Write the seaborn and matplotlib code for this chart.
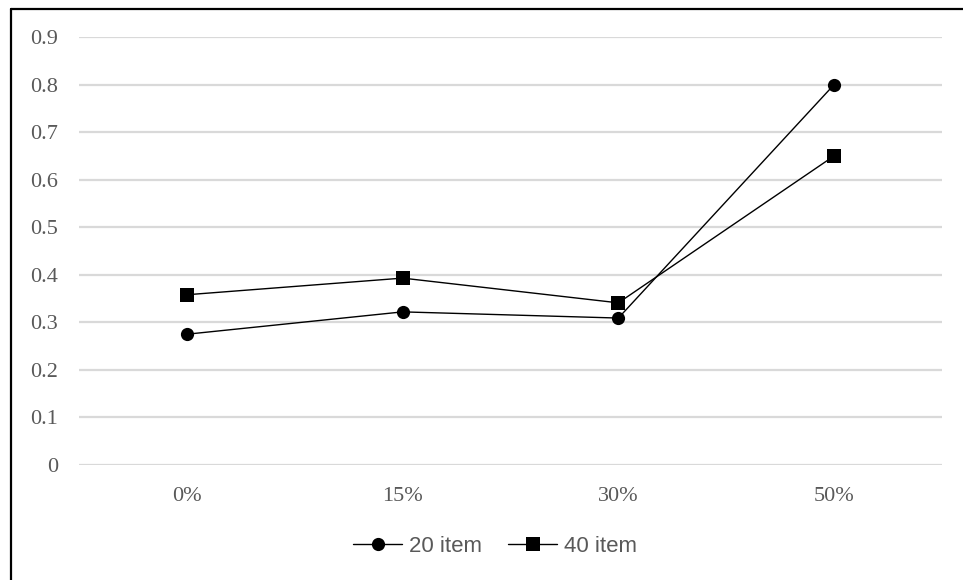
import matplotlib
matplotlib.use("Agg")
import matplotlib.pyplot as plt
from matplotlib.lines import Line2D
import seaborn as sns
import pandas as pd

# Proportion levels on the x axis
levels = ["0%", "15%", "30%", "50%"]

# Values for each test length
item20 = [0.275, 0.322, 0.309, 0.80]
item40 = [0.358, 0.393, 0.341, 0.65]

y_ticks = [0, 0.1, 0.2, 0.3, 0.4, 0.5, 0.6, 0.7, 0.8, 0.9]
y_tick_labels = ["0", "0.1", "0.2", "0.3", "0.4", "0.5", "0.6", "0.7", "0.8", "0.9"]

series_names = ["20 item", "40 item"]

df = pd.DataFrame({
    "level": levels * 2,
    "value": item20 + item40,
    "series": [series_names[0]] * len(levels) + [series_names[1]] * len(levels),
})

sns.set_theme(style="white")
plt.rcParams["font.family"] = ["Liberation Serif", "DejaVu Serif"]

fig = plt.figure(figsize=(9.63, 5.80), dpi=100)
ax = fig.add_axes([79 / 963, 1 - 465 / 580, (942 - 79) / 963, (465 - 37) / 580])

sns.lineplot(
    data=df, x="level", y="value", hue="series", style="series",
    palette=["black", "black"], markers={"20 item": "o", "40 item": "s"},
    dashes=False, linewidth=1.0, markersize=9.5, markeredgewidth=0,
    sort=False, ax=ax, legend=False, zorder=3,
)
for ln in ax.lines:
    ln.set_clip_on(False)

ax.set_xlim(-0.5, len(levels) - 0.5)
ax.set_ylim(0, 0.9)
ax.set_yticks(y_ticks)
ax.set_yticklabels(y_tick_labels)
ax.set_xlabel("")
ax.set_ylabel("")
ax.yaxis.grid(True, color="#d9d9d9", linewidth=1.6)
ax.xaxis.grid(False)
ax.set_axisbelow(True)
for side in ax.spines.values():
    side.set_visible(False)
ax.tick_params(axis="both", length=0, labelsize=16, colors="#595959")
ax.tick_params(axis="y", pad=15)
ax.tick_params(axis="x", pad=15.5)

# Legend with line-marker-line handles
handles = [
    Line2D([], [], color="black", linewidth=1.0, marker="o", markersize=9.5,
           markeredgewidth=0),
    Line2D([], [], color="black", linewidth=1.0, marker="s", markersize=9.5,
           markeredgewidth=0),
]
fig.legend(
    handles, series_names, loc="center", bbox_to_anchor=(495 / 963, 1 - 546 / 580),
    ncol=2, frameon=False, handlelength=2.2, handletextpad=0.3, columnspacing=1.2,
    prop={"family": ["Liberation Sans Narrow", "Liberation Sans", "DejaVu Sans"], "size": 16},
    labelcolor="#595959",
)

# Outer frame along the top and left edges
fig.add_artist(Line2D([10.5 / 963, 1.0], [1 - 8.5 / 580, 1 - 8.5 / 580],
                      transform=fig.transFigure, color="black", linewidth=1.6))
fig.add_artist(Line2D([10.5 / 963, 10.5 / 963], [0.0, 1 - 8.5 / 580],
                      transform=fig.transFigure, color="black", linewidth=1.6))

fig.savefig("out.png", dpi=100, facecolor="white")
